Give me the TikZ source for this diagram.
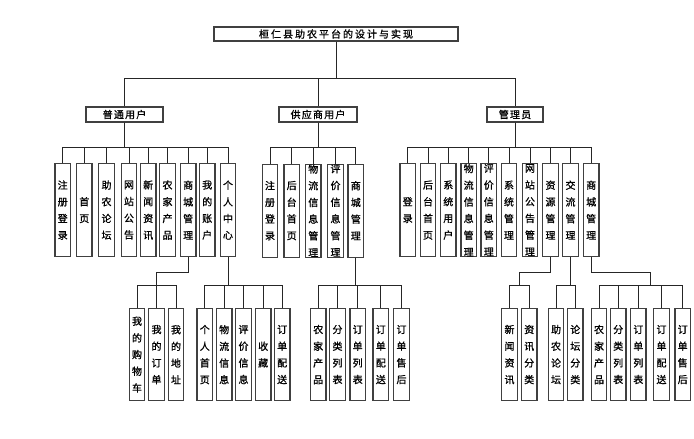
\documentclass[tikz,border=0pt]{standalone}
\usepackage{fontspec}
\newfontfamily\cjk[FakeBold=1]{Noto Sans CJK SC}
\newfontfamily\cjkwide[LetterSpace=12,FakeBold=1]{Noto Sans CJK SC}
\newfontfamily\cjktitle[LetterSpace=20,FakeBold=1]{Noto Sans CJK SC}
\tikzset{
  topbox/.style={draw=black!75,line width=1.2pt,minimum height=15pt,inner sep=0pt,
    font=\cjkwide\fontsize{10}{12}\selectfont},
  vbox/.style={draw=black!75,line width=1.2pt,minimum width=15.5pt,text width=12pt,
    align=center,inner sep=0pt,anchor=north,font=\cjk\fontsize{10}{16.7}\selectfont},
  link/.style={draw=black!85,line width=0.9pt},
}
\begin{document}
\begin{tikzpicture}[x=1pt,y=-1pt]
  \useasboundingbox (0,0) rectangle (694,439);
  \coordinate (b1) at (0,78);
  \coordinate (b2) at (0,147);
  \coordinate (b3) at (0,285);
  % top
  \node[topbox,minimum width=244pt,minimum height=14pt,font=\cjktitle\fontsize{10}{12}\selectfont]
    (root) at (336,34) {桓仁县助农平台的设计与实现};
  \node[topbox,minimum width=77pt] (pt) at (124.5,114.5) {普通用户};
  \node[topbox,minimum width=78pt] (gy) at (318,114.5) {供应商用户};
  \node[topbox,minimum width=56pt] (gl) at (515,114.5) {管理员};
  \foreach \p in {pt,gy,gl}
    \draw[link] (root.south) |- (\p.north |- b1) -- (\p.north);
  % second row
  \foreach \i/\x/\t in {1/62.7/{注\\册\\登\\录},2/84.3/{首\\页},3/106.5/{助\\农\\论\\坛},
      4/129/{网\\站\\公\\告},5/148.2/{新\\闻\\资\\讯},6/167.5/{农\\家\\产\\品},
      7/188.2/{商\\城\\管\\理},8/207.2/{我\\的\\账\\户},9/228/{个\\人\\中\\心}}{
    \node[vbox,minimum height=93pt] (pt\i) at (\x,163) {\t};
    \draw[link] (pt.south) |- (pt\i.north |- b2) -- (pt\i.north);
  }
  \foreach \i/\x/\t in {1/270/{注\\册\\登\\录},2/291.7/{后\\台\\首\\页},
      3/313.3/{物\\流\\信\\息\\管\\理},4/335.5/{评\\价\\信\\息\\管\\理},5/355.8/{商\\城\\管\\理}}{
    \node[vbox,minimum height=93pt] (gy\i) at (\x,163.5) {\t};
    \draw[link] (gy.south) |- (gy\i.north |- b2) -- (gy\i.north);
  }
  \foreach \i/\x/\t in {1/407.7/{登\\录},2/428/{后\\台\\首\\页},3/448.3/{系\\统\\用\\户},
      4/468.7/{物\\流\\信\\息\\管\\理},5/488.8/{评\\价\\信\\息\\管\\理},6/509/{系\\统\\管\\理},
      7/530/{网\\站\\公\\告\\管\\理},8/550.5/{资\\源\\管\\理},9/570.5/{交\\流\\管\\理},
      10/591.2/{商\\城\\管\\理}}{
    \node[vbox,minimum height=93pt] (gl\i) at (\x,163) {\t};
    \draw[link] (gl.south) |- (gl\i.north |- b2) -- (gl\i.north);
  }
  % third row
  \coordinate (j1) at (156.5,272);
  \coordinate (j2) at (519.3,272);
  \coordinate (j3) at (650,272);
  \draw[link] (pt7.south) |- (j1);
  \draw[link] (gl8.south) |- (j2);
  \draw[link] (gl10.south) |- (j3);
  \foreach \i/\x/\t in {1/137/{我\\的\\购\\物\\车},2/156.5/{我\\的\\订\\单},3/176/{我\\的\\地\\址}}{
    \node[vbox,minimum height=92pt] (sc\i) at (\x,308) {\t};
    \draw[link] (j1) |- (sc\i.north |- b3) -- (sc\i.north);
  }
  \foreach \i/\x/\t in {1/204.8/{个\\人\\首\\页},2/224.2/{物\\流\\信\\息},3/243.5/{评\\价\\信\\息},
      4/263.2/{收\\藏},5/282.2/{订\\单\\配\\送}}{
    \node[vbox,minimum height=92pt] (gr\i) at (\x,308) {\t};
    \draw[link] (pt9.south) |- (gr\i.north |- b3) -- (gr\i.north);
  }
  \foreach \i/\x/\t in {1/318.2/{农\\家\\产\\品},2/337.5/{分\\类\\列\\表},3/357.7/{订\\单\\列\\表},
      4/380.8/{订\\单\\配\\送},5/401.5/{订\\单\\售\\后}}{
    \node[vbox,minimum height=92pt] (gs\i) at (\x,308) {\t};
    \draw[link] (gy5.south) |- (gs\i.north |- b3) -- (gs\i.north);
  }
  \foreach \i/\x/\t in {1/509.5/{新\\闻\\资\\讯},2/529.2/{资\\讯\\分\\类}}{
    \node[vbox,minimum height=92pt] (zy\i) at (\x,308) {\t};
    \draw[link] (j2) |- (zy\i.north |- b3) -- (zy\i.north);
  }
  \foreach \i/\x/\t in {1/556/{助\\农\\论\\坛},2/575.3/{论\\坛\\分\\类}}{
    \node[vbox,minimum height=92pt] (jl\i) at (\x,308) {\t};
    \draw[link] (gl9.south) |- (jl\i.north |- b3) -- (jl\i.north);
  }
  \foreach \i/\x/\t in {1/599/{农\\家\\产\\品},2/618.2/{分\\类\\列\\表},3/638.3/{订\\单\\列\\表},
      4/661.5/{订\\单\\配\\送},5/682.7/{订\\单\\售\\后}}{
    \node[vbox,minimum height=92pt] (ls\i) at (\x,308) {\t};
    \draw[link] (j3) |- (ls\i.north |- b3) -- (ls\i.north);
  }
\end{tikzpicture}
\end{document}
